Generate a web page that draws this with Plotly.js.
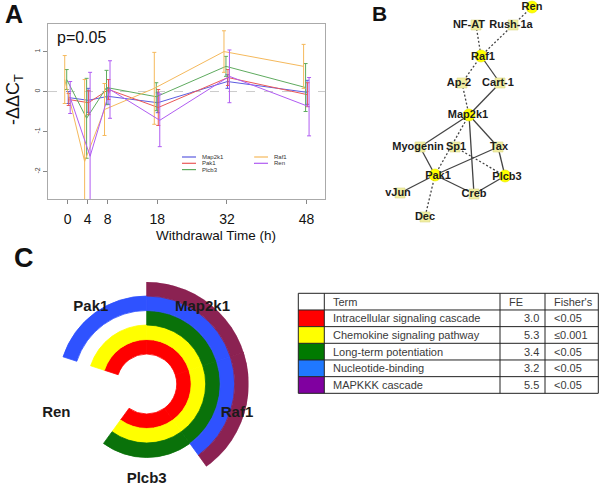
<!DOCTYPE html>
<html>
<head>
<meta charset="utf-8">
<script src="https://cdn.plot.ly/plotly-3.0.1.min.js"></script>
<style>
  html, body { margin: 0; padding: 0; background: #fff; }
  #chart { width: 600px; height: 486px; }
</style>
</head>
<body>
<div id="chart"></div>
<script>
// ---------- Panel A data ----------
const times = [0, 4, 8, 18, 32, 48];
const timeLabels = ['0', '4', '8', '18', '32', '48'];
const genes = ['Map2k1', 'Pak1', 'Plcb3', 'Raf1', 'Ren'];
const map2k1 = [-0.15, -0.22, -0.12, -0.28, 0.25, -0.02];
const map2k1Err = [0.15, 0.3, 0.2, 0.25, 0.17, 0.3];
const pak1 = [-0.2, -0.28, 0.05, -0.4, 0.35, -0.08];
const pak1Err = [0.15, 0.3, 0.25, 0.45, 0.2, 0.3];
const plcb3 = [0.3, -0.67, 0.1, -0.13, 0.63, 0.1];
const plcb3Err = [0.25, 1.0, 0.43, 0.35, 0.25, 0.6];
const raf1 = [0.3, -1.75, -0.45, 0.08, 1.0, 0.63];
const raf1Err = [0.6, 2.05, 0.65, 0.9, 0.52, 0.55];
const ren = [-0.15, -1.62, 0.05, -0.72, 0.38, -0.38];
const renErr = [0.4, 2.1, 0.72, 0.66, 0.66, 0.73];
const pValueText = 'p=0.05';

// ---------- Panel B data (network) ----------
const nodeNames = ['Ren','Rush-1a','NF-AT','Raf1','Ap-2','Cart-1','Map2k1','Myogenin','Sp1','Tax','Pak1','Plcb3','vJun','Creb','Dec'];
const nodeX = [532, 513, 476, 481, 462, 500, 469, 420, 455, 498, 435, 505, 400, 474, 425];
const nodeY = [7, 25, 25, 56, 83, 83, 115, 147, 147, 147, 175, 176, 193, 194, 217];
const nodeIsQuery = [1, 0, 0, 1, 0, 0, 1, 0, 0, 0, 1, 1, 0, 0, 0];
const labelX = [532, 511, 469, 483, 459, 498, 468, 418, 456, 499, 438, 507, 398, 474, 425];
const labelY = [7, 25, 25, 57, 83, 83, 115, 147, 147, 147, 176, 177, 193, 194, 217];
const edgeFrom = ['Ren','NF-AT','Rush-1a','Raf1','Raf1','Ap-2','Cart-1','Map2k1','Map2k1','Map2k1','Map2k1','Sp1','Myogenin','Tax','Tax','Pak1','Pak1','Creb','Pak1'];
const edgeTo   = ['Rush-1a','Raf1','Raf1','Ap-2','Cart-1','Map2k1','Map2k1','Myogenin','Tax','Creb','Pak1','Plcb3','Pak1','Pak1','Plcb3','vJun','Creb','Plcb3','Dec'];
const edgeDashed = [1,1,1,1,0,1,0,0,0,0,1,1,0,0,0,0,0,0,1];

// ---------- Panel C data ----------
const ringGenes = ['Map2k1', 'Raf1', 'Plcb3', 'Ren', 'Pak1'];
const tableHeader = ['', 'Term', 'FE', "Fisher's"];
const terms = ['Intracellular signaling cascade', 'Chemokine signaling pathway', 'Long-term potentiation', 'Nucleotide-binding', 'MAPKKK cascade'];
const foldEnrichment = ['3.0', '5.3', '3.4', '3.2', '5.5'];
const fisher = ['<0.05', '\u22640.001', '<0.05', '<0.05', '<0.05'];
// membership of each gene (ringGenes order) in each term
const memIntracellular = [1, 1, 1, 0, 1];
const memChemokine     = [1, 1, 1, 0, 1];
const memLTP           = [1, 1, 1, 0, 0];
const memNucleotide    = [1, 1, 0, 0, 1];
const memMAPKKK        = [1, 1, 0, 0, 0];

// ---------- styles ----------
const FONT = 'Liberation Sans, Arial, Helvetica, sans-serif';
const W = 600, H = 486;
const px = x => x / W;
const py = y => 1 - y / H;
const lineColors = {Map2k1: '#5c5ce0', Pak1: '#ea5858', Plcb3: '#5fab5f', Raf1: '#f5b95c', Ren: '#b05cf2'};
const dodge = {Map2k1: 0.1, Pak1: 0.2, Plcb3: -0.2, Raf1: -0.6, Ren: 0.5};
const seriesVals = {Map2k1: map2k1, Pak1: pak1, Plcb3: plcb3, Raf1: raf1, Ren: ren};
const seriesErr = {Map2k1: map2k1Err, Pak1: pak1Err, Plcb3: plcb3Err, Raf1: raf1Err, Ren: renErr};
const ringColors = ['#ff0000', '#ffff00', '#0a720a', '#2f52ff', '#8b2252'];
const tableColors = ['#ff0000', '#ffff00', '#007a00', '#1f78ff', '#8000a0'];
const ringInner = [30, 44.5, 59, 73.5, 88];
const ringThick = 14.5;
const memberships = [memIntracellular, memChemokine, memLTP, memNucleotide, memMAPKKK];
// table geometry (pixels)
const tblLeft = 298.3, tblTop = 293.3, rowH = 16.67;
const colW = [26, 175.7, 45, 53.3];
const colAlign = ['left', 'left', 'right', 'left'];
const cellPad = 7;

const traces = [];

// Panel A lines
genes.forEach(g => {
  traces.push({
    type: 'scatter', mode: 'lines', xaxis: 'x', yaxis: 'y',
    x: times.map(t => t + dodge[g]), y: seriesVals[g],
    line: {color: lineColors[g], width: 1},
    error_y: {type: 'data', array: seriesErr[g], visible: true, color: lineColors[g], thickness: 1, width: 2},
    showlegend: false, hoverinfo: 'skip'
  });
});

// Panel B edges
['solid', 'dash'].forEach(kind => {
  const ex = [], ey = [];
  edgeFrom.forEach((f, i) => {
    if ((edgeDashed[i] === 1) !== (kind === 'dash')) return;
    const a = nodeNames.indexOf(f), b = nodeNames.indexOf(edgeTo[i]);
    ex.push(nodeX[a], nodeX[b], null);
    ey.push(nodeY[a], nodeY[b], null);
  });
  traces.push({
    type: 'scatter', mode: 'lines', xaxis: 'x3', yaxis: 'y3', x: ex, y: ey,
    line: {color: '#444', width: 1.3, dash: kind === 'dash' ? '2px,2px' : 'solid'},
    showlegend: false, hoverinfo: 'skip', connectgaps: false
  });
});
// Panel B nodes
const sqIdx = nodeNames.map((n, i) => i).filter(i => !nodeIsQuery[i]);
const ciIdx = nodeNames.map((n, i) => i).filter(i => nodeIsQuery[i]);
traces.push({
  type: 'scatter', mode: 'markers', xaxis: 'x3', yaxis: 'y3',
  x: sqIdx.map(i => nodeX[i]), y: sqIdx.map(i => nodeY[i]),
  marker: {symbol: 'square', size: 10, color: '#f1eea2', line: {color: '#dcd88a', width: 0.6}},
  showlegend: false, hoverinfo: 'skip'
});
traces.push({
  type: 'scatter', mode: 'markers', xaxis: 'x3', yaxis: 'y3',
  x: ciIdx.map(i => nodeX[i]), y: ciIdx.map(i => nodeY[i]),
  marker: {symbol: 'circle', size: 12, color: '#ffff00', line: {color: '#e8e800', width: 0.6}},
  showlegend: false, hoverinfo: 'skip'
});
traces.push({
  type: 'scatter', mode: 'text', xaxis: 'x3', yaxis: 'y3',
  x: labelX, y: labelY, text: nodeNames.map(n => '<b>' + n + '</b>'),
  textposition: 'middle center', textfont: {family: FONT, size: 11, color: '#1c1c1c'},
  showlegend: false, hoverinfo: 'skip', cliponaxis: false
});

// Panel C rings
const geneTheta = ringGenes.map((g, i) => i * 72 + 36);
memberships.forEach((mem, k) => {
  const th = geneTheta.filter((t, i) => mem[i]);
  traces.push({
    type: 'barpolar', subplot: 'polar',
    theta: th, r: th.map(() => ringThick), base: th.map(() => ringInner[k]),
    width: th.map(() => 72),
    marker: {color: ringColors[k], line: {color: ringColors[k], width: 0.8}},
    showlegend: false, hoverinfo: 'skip'
  });
});
traces.push({
  type: 'scatterpolar', subplot: 'polar', mode: 'text',
  theta: geneTheta, r: geneTheta.map(() => 95),
  text: ringGenes.map(g => '<b>' + g + '</b>'),
  textfont: {family: FONT, size: 15, color: '#1a1a1a'},
  showlegend: false, hoverinfo: 'skip', cliponaxis: false
});

// annotations
const ann = [
  {text: '<b>A</b>', x: px(14), y: py(14), size: 25},
  {text: '<b>B</b>', x: px(379), y: py(14), size: 21},
  {text: '<b>C</b>', x: px(24), y: py(258), size: 27},
  {text: pValueText, x: px(81), y: py(37), size: 16},
  {text: 'Withdrawal Time (h)', x: px(216), y: py(235), size: 13.5},
].map(a => ({text: a.text, x: a.x, y: a.y, xref: 'paper', yref: 'paper', showarrow: false,
  xanchor: 'center', yanchor: 'middle', font: {family: FONT, size: a.size, color: '#111'}}));
ann.push({text: '-\u0394\u0394C<sub>T</sub>', x: px(15), y: py(100), xref: 'paper', yref: 'paper',
  showarrow: false, textangle: -90, xanchor: 'center', yanchor: 'middle',
  font: {family: FONT, size: 18, color: '#111'}});

const shapes = [{type: 'line', xref: 'x domain', yref: 'y', x0: 0, x1: 1, y0: 0, y1: 0,
  line: {color: '#cccccc', width: 1, dash: 'dash'}, layer: 'below'}];

// Panel A legend (two columns, built from genes)
const legColX = [182, 254], legRowY = [157, 163.3, 169.6];
genes.forEach((g, i) => {
  const c = i < 3 ? 0 : 1, r = i < 3 ? i : i - 3;
  shapes.push({type: 'line', xref: 'paper', yref: 'paper',
    x0: px(legColX[c]), x1: px(legColX[c] + 14), y0: py(legRowY[r]), y1: py(legRowY[r]),
    line: {color: lineColors[g], width: 1.2}});
  ann.push({text: g, x: px(legColX[c] + 18), y: py(legRowY[r]), xref: 'paper', yref: 'paper',
    showarrow: false, xanchor: 'left', yanchor: 'middle',
    font: {family: FONT, size: 6, color: '#333'}});
});

// Panel C table built from arrays
const colEdges = [tblLeft];
colW.forEach(w => colEdges.push(colEdges[colEdges.length - 1] + w));
const nRows = terms.length + 1;
const tblBottom = tblTop + nRows * rowH;
const tableRows = [tableHeader].concat(terms.map((t, i) => ['', t, foldEnrichment[i], fisher[i]]));
terms.forEach((t, i) => {
  shapes.push({type: 'rect', xref: 'paper', yref: 'paper',
    x0: px(colEdges[0]), x1: px(colEdges[1]), y0: py(tblTop + (i + 1) * rowH), y1: py(tblTop + (i + 2) * rowH),
    fillcolor: tableColors[i], line: {width: 0}});
});
for (let r = 0; r <= nRows; r++) {
  shapes.push({type: 'line', xref: 'paper', yref: 'paper', x0: px(colEdges[0]), x1: px(colEdges[colEdges.length - 1]),
    y0: py(tblTop + r * rowH), y1: py(tblTop + r * rowH), line: {color: '#222', width: 1}});
}
colEdges.forEach(x => {
  shapes.push({type: 'line', xref: 'paper', yref: 'paper', x0: px(x), x1: px(x),
    y0: py(tblTop), y1: py(tblBottom), line: {color: '#222', width: 1}});
});
tableRows.forEach((row, r) => {
  row.forEach((txt, c) => {
    if (!txt) return;
    const align = r === 0 ? 'left' : colAlign[c];
    const x = align === 'left' ? colEdges[c] + cellPad : colEdges[c + 1] - 4;
    ann.push({text: txt, x: px(x), y: py(tblTop + (r + 0.5) * rowH), xref: 'paper', yref: 'paper',
      showarrow: false, xanchor: align, yanchor: 'middle',
      font: {family: FONT, size: 11, color: '#3a3a3a'}});
  });
});

const layout = {
  width: W, height: H,
  margin: {l: 0, r: 0, t: 0, b: 0},
  paper_bgcolor: '#fff', plot_bgcolor: 'rgba(0,0,0,0)',
  showlegend: false,
  font: {family: FONT},
  xaxis: {
    domain: [px(48), px(325)], range: [-3.96, 51.7], anchor: 'y',
    tickvals: times, ticktext: timeLabels, ticks: 'outside', ticklen: 4, tickcolor: '#888',
    tickfont: {family: FONT, size: 14, color: '#111'}, showgrid: false, zeroline: false,
    showline: true, linecolor: '#aaa', linewidth: 1, mirror: true, ticklabelstandoff: 3
  },
  yaxis: {
    domain: [py(199), py(24)], range: [-2.69, 1.69], anchor: 'x',
    tickvals: [-2, -1, 0, 1], ticktext: ['-2', '-1', '0', '1'], ticks: 'outside', ticklen: 4,
    tickcolor: '#888', tickangle: -90, tickfont: {family: FONT, size: 7, color: '#444'},
    showgrid: false, zeroline: false, showline: true, linecolor: '#aaa', linewidth: 1, mirror: true
  },
  xaxis3: {domain: [px(370), 1], range: [370, 600], visible: false, anchor: 'y3', fixedrange: true},
  yaxis3: {domain: [py(240), 1], range: [240, 0], visible: false, anchor: 'x3', fixedrange: true},
  polar: {
    domain: {x: [px(44.7), px(248.7)], y: [0, py(282)]},
    bgcolor: 'rgba(0,0,0,0)', hole: 0,
    radialaxis: {range: [0, 102], visible: false, showgrid: false},
    angularaxis: {visible: false, rotation: 90, direction: 'clockwise', showgrid: false}
  },
  shapes: shapes,
  annotations: ann
};

Plotly.newPlot('chart', traces, layout, {staticPlot: true, displayModeBar: false});
</script>
</body>
</html>
